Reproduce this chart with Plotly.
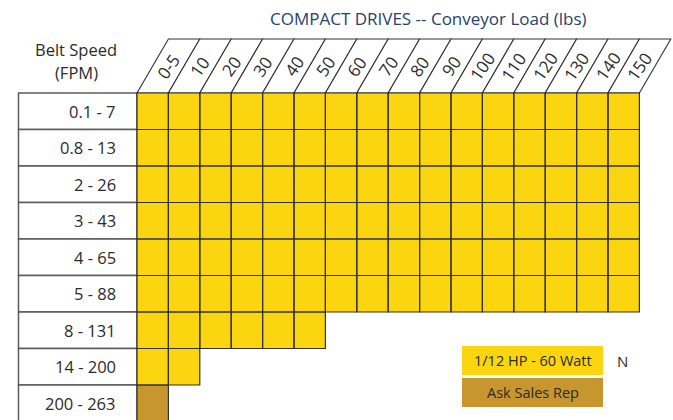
import plotly.graph_objects as go

# ---- data ----
title = "COMPACT DRIVES -- Conveyor Load (lbs)"
row_header = ["Belt Speed", "(FPM)"]
belt_speeds = ["0.1 - 7", "0.8 - 13", "2 - 26", "3 - 43", "4 - 65", "5 - 88", "8 - 131", "14 - 200", "200 - 263"]
loads = ["0-5", "10", "20", "30", "40", "50", "60", "70", "80", "90", "100", "110", "120", "130", "140", "150"]
hp_cols_per_row = [16, 16, 16, 16, 16, 16, 6, 2, 0]      # 1/12 HP - 60 Watt
ask_cols_per_row = [0, 0, 0, 0, 0, 0, 0, 0, 1]           # Ask Sales Rep
legend_labels = ["1/12 HP - 60 Watt", "Ask Sales Rep"]
legend_note = "N"

# ---- styles ----
YELLOW = "#FBD50F"
BROWN = "#C8962F"
CELL_LINE = "#333333"
LABEL_LINE = "#5a5a5a"
TEXT = "#2b2b2b"
NAVY = "#27426e"
FONT = "Open Sans, Liberation Sans, sans-serif"

W, H = 673, 420
x0_px, col_w = 137.0, 31.4
y0_px, row_h = 93.0, 36.5

ncol = len(loads)
nrow = len(belt_speeds)

# z matrix: 1 = HP, 2 = ask sales rep, None = empty
z = []
for r in range(nrow):
    row = []
    for c in range(ncol):
        if c < hp_cols_per_row[r]:
            row.append(1)
        elif c < hp_cols_per_row[r] + ask_cols_per_row[r]:
            row.append(2)
        else:
            row.append(None)
    z.append(row)

fig = go.Figure()
fig.add_trace(go.Heatmap(
    z=z,
    x=[c + 0.5 for c in range(ncol)],
    y=[r + 0.5 for r in range(nrow)],
    zmin=1, zmax=2,
    colorscale=[[0, YELLOW], [0.5, YELLOW], [0.5, BROWN], [1, BROWN]],
    showscale=False, hoverinfo="skip",
))

shapes = []
annotations = []

# cell borders
for r in range(nrow):
    for c in range(ncol):
        if z[r][c] is not None:
            shapes.append(dict(type="rect", xref="x", yref="y",
                               x0=c, x1=c + 1, y0=r, y1=r + 1,
                               line=dict(color=CELL_LINE, width=1.2),
                               fillcolor="rgba(0,0,0,0)", layer="above"))

# row label cells
lab_left = -(x0_px - 18.5) / col_w
for r, lab in enumerate(belt_speeds):
    shapes.append(dict(type="rect", xref="x", yref="y",
                       x0=lab_left, x1=0, y0=r, y1=r + 1,
                       line=dict(color=LABEL_LINE, width=1.5),
                       fillcolor="white", layer="below"))
    annotations.append(dict(xref="x", yref="y", x=-0.62, y=r + 0.5, text=lab,
                            showarrow=False, xanchor="right", yanchor="middle",
                            font=dict(family=FONT, size=16.5, color=TEXT)))

# column header parallelograms
top_v = -(y0_px - 39.0) / row_h
for c, lab in enumerate(loads):
    path = f"M {c},0 L {c+1},0 L {c+2},{top_v} L {c+1},{top_v} Z"
    shapes.append(dict(type="path", xref="x", yref="y", path=path,
                       line=dict(color=CELL_LINE, width=1.1),
                       fillcolor="white", layer="below"))
    annotations.append(dict(xref="x", yref="y", x=c + 1.0, y=top_v / 2 + 0.02,
                            text=lab, showarrow=False, textangle=-55,
                            xanchor="center", yanchor="middle",
                            font=dict(family=FONT, size=17, color=TEXT)))

# row header
hx = (lab_left + 0) / 2 - 0.05
annotations.append(dict(xref="x", yref="y", x=hx, y=-1.18,
                        text=row_header[0], showarrow=False,
                        font=dict(family=FONT, size=16.5, color=TEXT)))
annotations.append(dict(xref="x", yref="y", x=hx, y=-0.55,
                        text=row_header[1], showarrow=False,
                        font=dict(family=FONT, size=16.5, color=TEXT)))

# legend boxes
leg_x0 = (462 - x0_px) / col_w
leg_x1 = (603 - x0_px) / col_w
leg_colors = [YELLOW, BROWN]
leg_top = (346 - y0_px) / row_h
leg_h = 29 / row_h
leg_step = 32 / row_h
for i, (lab, col) in enumerate(zip(legend_labels, leg_colors)):
    y_a = leg_top + i * leg_step
    shapes.append(dict(type="rect", xref="x", yref="y",
                       x0=leg_x0, x1=leg_x1, y0=y_a, y1=y_a + leg_h,
                       line=dict(width=0), fillcolor=col, layer="below"))
    annotations.append(dict(xref="x", yref="y", x=(leg_x0 + leg_x1) / 2, y=y_a + leg_h / 2,
                            text=lab, showarrow=False,
                            font=dict(family=FONT, size=14.5, color=TEXT)))
annotations.append(dict(xref="x", yref="y", x=(622 - x0_px) / col_w, y=leg_top + leg_h / 2,
                        text=legend_note, showarrow=False,
                        font=dict(family=FONT, size=15, color=TEXT)))

# title
annotations.append(dict(xref="x", yref="y", x=(428 - x0_px) / col_w, y=(18 - y0_px) / row_h,
                        text=title, showarrow=False,
                        font=dict(family=FONT, size=17, color=NAVY)))

fig.update_layout(
    width=W, height=H,
    margin=dict(l=0, r=0, t=0, b=0),
    paper_bgcolor="white", plot_bgcolor="white",
    xaxis=dict(range=[-x0_px / col_w, (W - x0_px) / col_w], visible=False, fixedrange=True),
    yaxis=dict(range=[(H - y0_px) / row_h, -y0_px / row_h], visible=False, fixedrange=True),
    shapes=shapes, annotations=annotations, showlegend=False,
)

fig.write_html("out.html", config={"displayModeBar": False},
               post_script="document.body.style.margin='0';document.body.style.overflow='hidden';")
